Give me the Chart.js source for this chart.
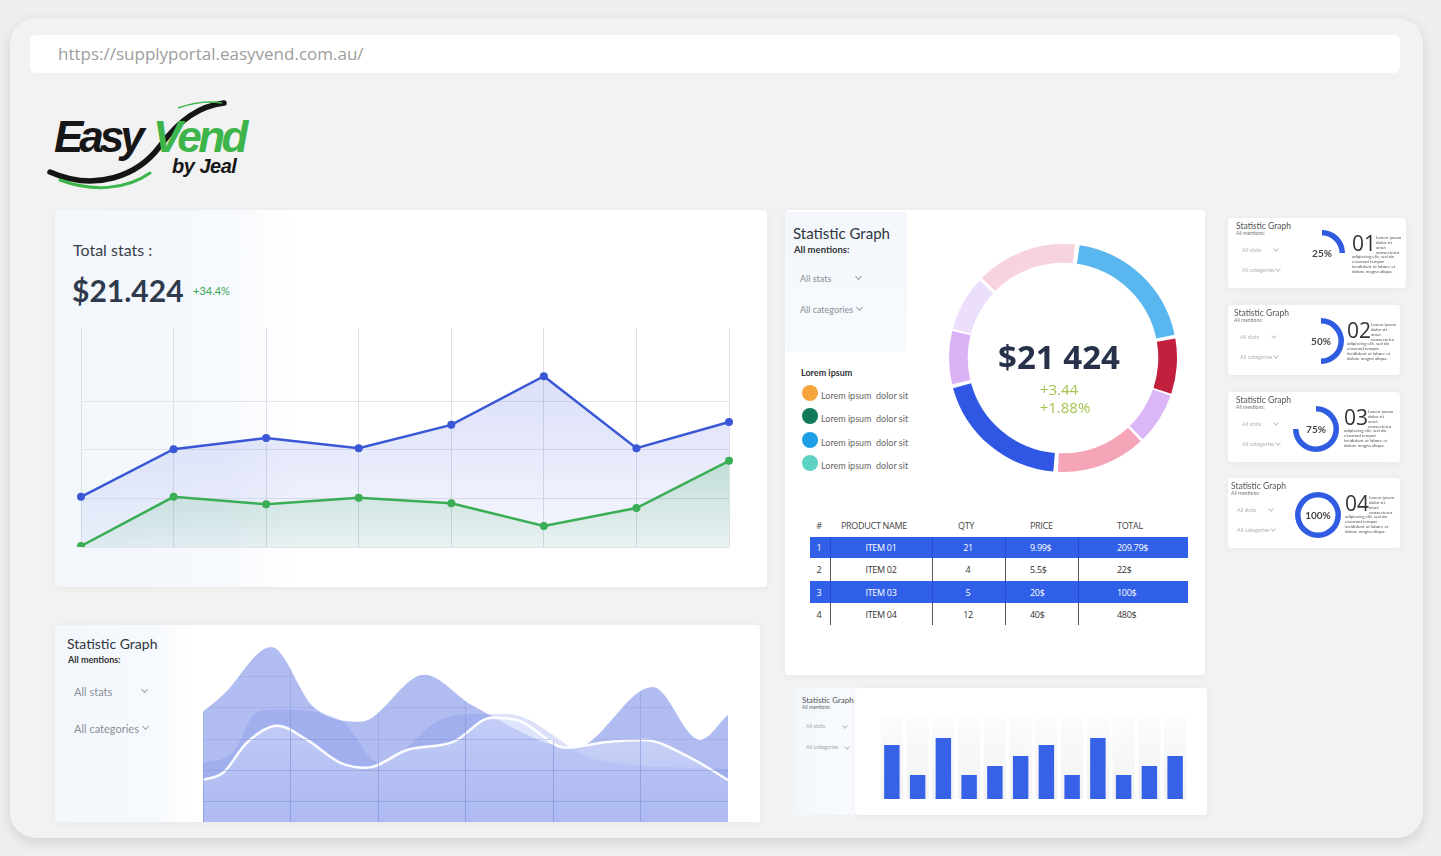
<!DOCTYPE html>
<html><head><meta charset="utf-8">
<script src="https://cdn.jsdelivr.net/npm/chart.js@4.4.1/dist/chart.umd.min.js"></script>
<style>
html,body{margin:0;padding:0;}
body{width:1441px;height:856px;overflow:hidden;background:#eef0f0;font-family:Lato,'Open Sans',sans-serif;position:relative;}
.t{position:absolute;white-space:nowrap;line-height:1;}
.card{position:absolute;background:#fff;border-radius:4px;box-shadow:0 1px 8px rgba(0,0,0,0.05);}
canvas{position:absolute;}
.chev{position:absolute;width:4px;height:4px;border-right:1px solid #9aa0aa;border-bottom:1px solid #9aa0aa;transform:rotate(45deg);}
.tiny{position:absolute;font-size:4.5px;line-height:5px;color:#555;white-space:normal;}
</style></head><body>

<div style="position:absolute;left:10px;top:18px;width:1413px;height:820px;border-radius:26px;background:#f2f2f2;box-shadow:0 4px 14px rgba(0,0,0,0.13);"></div>
<div style="position:absolute;left:30px;top:35px;width:1370px;height:38px;border-radius:6px;background:#fff;"></div>
<div class="t" style="left:58px;top:45px;font-family:'Open Sans';font-size:17px;color:#9d9d9d;">https://supplyportal.easyvend.com.au/</div>

<!-- logo -->
<svg style="position:absolute;left:0;top:0" width="300" height="200">
  <path d="M50,172 C 95,192 138,176 160,146 C 180,119 200,106 224,103" fill="none" stroke="#151515" stroke-width="5.5" stroke-linecap="round"/>
  <path d="M60,180 C 92,192 126,190 150,173" fill="none" stroke="#3db54a" stroke-width="3" stroke-linecap="round"/>
  <path d="M178,108 C 195,102 210,101 222,103" fill="none" stroke="#3db54a" stroke-width="1.5"/>
</svg>
<div class="t" style="left:54px;top:115px;font-family:'Liberation Sans';font-weight:bold;font-style:italic;font-size:44px;letter-spacing:-4px;color:#161616;">Easy</div>
<div class="t" style="left:153px;top:115px;font-family:'Liberation Sans';font-weight:bold;font-style:italic;font-size:44px;letter-spacing:-3.5px;color:#3db54a;">Vend</div>
<div class="t" style="left:172px;top:156px;font-family:'Liberation Sans';font-weight:bold;font-style:italic;font-size:20px;letter-spacing:-0.5px;color:#161616;">by Jeal</div>

<!-- line card -->
<div class="card" style="left:55px;top:210px;width:712px;height:377px;background:linear-gradient(90deg,#f2f7fc 0,#f6f9fd 170px,#fff 240px);"></div>
<div class="t" style="left:73px;top:242px;font-size:16px;color:#3a3f48;">Total stats :</div>
<div class="t" style="left:72px;top:275px;font-size:30px;font-weight:bold;color:#2f3a4d;">$21.424</div>
<div class="t" style="left:193px;top:285px;font-size:11px;color:#3aa856;">+34.4%</div>
<canvas id="lineChart" width="660" height="231" style="left:75px;top:322px;"></canvas>

<!-- area card -->
<div class="card" style="left:55px;top:625px;width:705px;height:197px;overflow:hidden;border-radius:4px 4px 0 0;background:linear-gradient(90deg,#f3f7fc 0,#f6f9fd 100px,#fff 135px);">
  <canvas id="areaChart" width="525" height="188" style="left:148px;top:20px;"></canvas>
</div>
<div class="t" style="left:67px;top:637px;font-size:14px;color:#2f3540;">Statistic Graph</div>
<div class="t" style="left:68px;top:655px;font-size:9px;font-weight:bold;color:#333;">All mentions:</div>
<div class="t" style="left:74px;top:686px;font-size:11px;color:#8a8f99;">All stats</div>
<div class="chev" style="left:142px;top:687px;"></div>
<div class="t" style="left:74px;top:723px;font-size:11px;color:#8a8f99;">All categories</div>
<div class="chev" style="left:143px;top:724px;"></div>

<!-- donut card -->
<div class="card" style="left:785px;top:210px;width:420px;height:465px;"></div>
<div style="position:absolute;left:785px;top:212px;width:122px;height:140px;background:linear-gradient(180deg,#f3f7fc,#f7fafd);border-radius:4px;"></div>
<div class="t" style="left:793px;top:226px;font-size:15px;color:#2f3540;">Statistic Graph</div>
<div class="t" style="left:794px;top:245px;font-size:9.5px;font-weight:bold;color:#333;">All mentions:</div>
<div class="t" style="left:800px;top:274px;font-size:9px;color:#8a8f99;">All stats</div>
<div class="chev" style="left:856px;top:274px;"></div>
<div class="t" style="left:800px;top:305px;font-size:9px;color:#8a8f99;">All categories</div>
<div class="chev" style="left:857px;top:305px;"></div>
<div class="t" style="left:801px;top:368px;font-size:9px;font-weight:bold;color:#333;">Lorem ipsum</div>
<div id="legend"></div>
<canvas id="donutChart" width="228" height="228" style="left:949px;top:244px;"></canvas>
<div class="t" style="left:959px;top:340px;width:200px;text-align:center;font-family:'Open Sans';font-weight:bold;font-size:33px;color:#27324a;">$21 424</div>
<div class="t" style="left:1009px;top:382px;width:100px;text-align:center;font-family:'Open Sans';font-size:15px;color:#a3c44e;">+3.44</div>
<div class="t" style="left:1015px;top:400px;width:100px;text-align:center;font-family:'Open Sans';font-size:15px;color:#a3c44e;">+1.88%</div>
<div id="table"></div>

<!-- bar card -->
<div style="position:absolute;left:793px;top:688px;width:62px;height:127px;background:linear-gradient(90deg,#f3f7fc,#f8fafd);"></div>
<div class="card" style="left:855px;top:688px;width:352px;height:127px;"></div>
<div class="t" style="left:802px;top:696px;font-size:8px;color:#555;">Statistic Graph</div>
<div class="t" style="left:802px;top:705px;font-size:5px;color:#666;">All mentions:</div>
<div class="t" style="left:806px;top:724px;font-size:5.5px;color:#aaa;">All stats</div>
<div class="chev" style="left:843px;top:724px;width:3px;height:3px;border-color:#bbb;"></div>
<div class="t" style="left:806px;top:745px;font-size:5.5px;color:#aaa;">All categories</div>
<div class="chev" style="left:845px;top:745px;width:3px;height:3px;border-color:#bbb;"></div>
<canvas id="barChart" width="309" height="81" style="left:879px;top:718px;"></canvas>

<div id="rings"></div>

<script>
Chart.defaults.animation = false;
Chart.defaults.font.family = 'Lato';

// ---- data ----
const periods = ['1','2','3','4','5','6','7','8'];
const blueSeries = [10.3, 20.1, 22.4, 20.3, 25.1, 35.1, 20.3, 25.7];
const greenSeries = [0.2, 10.3, 8.8, 10.1, 9.0, 4.3, 8.0, 17.7];

const donutValues = [72, 29, 27, 47, 72, 28, 29, 53];

const barLabels = ['1','2','3','4','5','6','7','8','9','10','11','12'];
const barValues = [54, 24, 61, 24, 33, 43, 54, 24, 61, 24, 33, 43];
const barTrack = [81, 81, 81, 81, 81, 81, 81, 81, 81, 81, 81, 81];

const areaBack = [{x:0,y:3.87},{x:0.23,y:4.41},{x:0.78,y:5.94},{x:1.26,y:4.03},{x:1.8,y:3.55},{x:2.53,y:5.05},{x:3.09,y:4.05},{x:4.25,y:2.72},{x:5.14,y:4.66},{x:5.68,y:2.97},{x:6,y:3.77}];
const areaMiddle = [{x:0,y:2.24},{x:0.34,y:2.56},{x:0.62,y:3.87},{x:0.88,y:3.93},{x:1.57,y:3.61},{x:2.02,y:2.24},{x:2.71,y:3.61},{x:3.1,y:3.8},{x:3.48,y:3.8},{x:4.51,y:2.33},{x:6,y:2.04}];
const areaFront = [{x:0,y:1.69},{x:0.23,y:1.92},{x:0.5,y:2.88},{x:0.85,y:3.42},{x:1.19,y:2.97},{x:1.57,y:2.24},{x:1.87,y:2.08},{x:2.33,y:2.65},{x:2.86,y:2.91},{x:3.3,y:3.68},{x:3.6,y:3.6},{x:4.15,y:2.72},{x:4.6,y:2.9},{x:5.04,y:2.97},{x:5.55,y:2.43},{x:6,y:1.69}];

const progressValues = [25, 50, 75, 100];
const progressNumbers = ['01','02','03','04'];

const legendLabels = ['Lorem ipsum  dolor sit','Lorem ipsum  dolor sit','Lorem ipsum  dolor sit','Lorem ipsum  dolor sit'];
const tableHeader = ['#','PRODUCT NAME','QTY','PRICE','TOTAL'];
const tableRows = [
  ['1','ITEM 01','21','9.99$','209.79$'],
  ['2','ITEM 02','4','5.5$','22$'],
  ['3','ITEM 03','5','20$','100$'],
  ['4','ITEM 04','12','40$','480$']
];

// ---- styles ----
const donutColors = ['#5ab6ef','#c21f3f','#dcb7f7','#f5a5b7','#2f57e3','#dcb2f6','#ecdffb','#f6d3de'];
const legendColors = ['#f6a43c','#137a5c','#1e9fe3','#5fd3c3'];
const fitX = s=>{s.height=0;};
const fitY = s=>{s.width=0;};

function vGrad(chart, stops){
  const a = chart.chartArea; if(!a) return null;
  const g = chart.ctx.createLinearGradient(0,a.top,0,a.bottom);
  stops.forEach(s=>g.addColorStop(s[0],s[1]));
  return g;
}

// ---- line chart ----
new Chart(document.getElementById('lineChart'), {
  type:'line',
  data:{labels:periods, datasets:[
    {data:greenSeries, borderColor:'#3bae55', borderWidth:2.5, pointRadius:4, pointBackgroundColor:'#3bae55', pointBorderWidth:0, tension:0, fill:'origin',
     backgroundColor:c=>vGrad(c.chart,[[0,'rgba(50,170,80,0.5)'],[0.6,'rgba(50,170,80,0.22)'],[1,'rgba(50,170,80,0.06)']])},
    {data:blueSeries, borderColor:'#3a58d6', borderWidth:2.5, pointRadius:4, pointBackgroundColor:'#3a58d6', pointBorderWidth:0, tension:0, fill:'origin',
     backgroundColor:c=>vGrad(c.chart,[[0,'rgba(90,110,225,0.26)'],[1,'rgba(90,110,225,0.06)']])}
  ]},
  options:{responsive:false, layout:{padding:6}, plugins:{legend:{display:false},tooltip:{enabled:false}},
    scales:{
      x:{afterFit:fitX, ticks:{display:false}, border:{display:false}, grid:{drawTicks:false, color:'#dcdfe5'}},
      y:{afterFit:fitY, min:0, max:45, ticks:{display:false, stepSize:10}, border:{display:false},
         grid:{drawTicks:false, color:c=>(c.tick && c.tick.value>=40)?'rgba(0,0,0,0)':'#e2e4e9'}}
    }}
});

// ---- donut ----
new Chart(document.getElementById('donutChart'), {
  type:'doughnut',
  data:{labels:donutValues.map((v,i)=>'S'+(i+1)), datasets:[{data:donutValues, backgroundColor:donutColors, borderWidth:0, spacing:8}]},
  options:{responsive:false, rotation:7, cutout:'83%', plugins:{legend:{display:false},tooltip:{enabled:false}}}
});

// ---- bar chart ----
new Chart(document.getElementById('barChart'), {
  type:'bar',
  data:{labels:barLabels, datasets:[
    {data:barValues, backgroundColor:'#3762e8', barPercentage:0.6, categoryPercentage:1, grouped:false},
    {data:barTrack, backgroundColor:c=>vGrad(c.chart,[[0,'rgba(242,243,246,0.3)'],[1,'#f1f2f5']]), barPercentage:0.86, categoryPercentage:1, grouped:false}
  ]},
  options:{responsive:false, plugins:{legend:{display:false},tooltip:{enabled:false}},
    scales:{x:{display:false}, y:{display:false, min:0, max:81}}}
});

// ---- area chart ----
const atopGrid = {id:'atopGrid',
  afterDatasetsDraw(chart){ chart.ctx.globalCompositeOperation='source-atop'; },
  afterDraw(chart){ chart.ctx.globalCompositeOperation='source-over'; }};
new Chart(document.getElementById('areaChart'), {
  type:'line',
  data:{datasets:[
    {data:areaFront, borderColor:'rgba(255,255,255,0.95)', borderWidth:2.5, pointRadius:0, cubicInterpolationMode:'monotone', fill:'origin',
     backgroundColor:c=>vGrad(c.chart,[[0.25,'rgba(232,238,255,0.6)'],[0.7,'rgba(215,224,252,0.35)'],[1,'rgba(200,210,250,0.3)']])},
    {data:areaMiddle, borderWidth:0, pointRadius:0, cubicInterpolationMode:'monotone', fill:'origin', backgroundColor:'rgba(110,130,228,0.24)'},
    {data:areaBack, borderWidth:0, pointRadius:0, cubicInterpolationMode:'monotone', fill:'origin', backgroundColor:'rgba(125,145,232,0.6)'}
  ]},
  options:{responsive:false, plugins:{legend:{display:false},tooltip:{enabled:false}},
    scales:{
      x:{type:'linear', min:0, max:6, afterFit:fitX, ticks:{display:false, stepSize:1}, border:{display:false}, grid:{z:1, drawTicks:false, color:'rgba(60,80,185,0.4)'}},
      y:{type:'linear', min:0, max:6, afterFit:fitY, ticks:{display:false, stepSize:1}, border:{display:false}, grid:{z:1, drawTicks:false, color:'rgba(60,80,185,0.3)'}}
    }},
  plugins:[atopGrid]
});

// ---- legend ----
(function(){
  const host = document.getElementById('legend');
  const ys = [393, 416, 440, 463];
  legendLabels.forEach((lab,i)=>{
    const d = document.createElement('div');
    d.style.cssText = `position:absolute;left:802px;top:${ys[i]-8}px;width:16px;height:16px;border-radius:50%;background:${legendColors[i]};`;
    host.appendChild(d);
    const t = document.createElement('div');
    t.className='t'; t.textContent = lab;
    t.style.cssText += `left:821px;top:${ys[i]-2}px;font-size:9px;color:#666;white-space:pre;`;
    host.appendChild(t);
  });
})();

// ---- table ----
(function(){
  const host = document.getElementById('table');
  const colL = [810, 830, 932, 1005, 1078];
  const txtX = [[819,'c'],[881,'c'],[968,'c'],[1030,'l'],[1117,'l']];
  const hdrX = [[819,'c'],[841,'l'],[966,'c'],[1030,'l'],[1117,'l']];
  function txt(s,x,al,y,col,size){
    const t=document.createElement('div'); t.className='t'; t.textContent=s;
    if(al==='c'){ t.style.left=(x-40)+'px'; t.style.width='80px'; t.style.textAlign='center'; } else t.style.left=x+'px';
    t.style.top=(y-size/2)+'px'; t.style.fontSize=size+'px'; t.style.color=col; t.style.fontFamily="'Open Sans'";
    t.style.letterSpacing='-0.3px';
    host.appendChild(t);
  }
  tableHeader.forEach((h,i)=>txt(h,hdrX[i][0],hdrX[i][1],525,'#444',9));
  const rowTop = [537, 558, 581, 603];
  const rowH = [21, 23, 22, 22];
  tableRows.forEach((r,ri)=>{
    const blue = ri%2===0;
    if(blue){
      const b=document.createElement('div');
      b.style.cssText=`position:absolute;left:810px;top:${rowTop[ri]}px;width:378px;height:${rowH[ri]}px;background:#3160e8;`;
      host.appendChild(b);
    }
    for(let c=1;c<5;c++){
      const l=document.createElement('div');
      l.style.cssText=`position:absolute;left:${colL[c]}px;top:${rowTop[ri]}px;width:1px;height:${rowH[ri]}px;background:${blue?'rgba(20,40,140,0.35)':'#555'};`;
      host.appendChild(l);
    }
    r.forEach((s,ci)=>txt(s,txtX[ci][0],txtX[ci][1],rowTop[ri]+rowH[ri]/2,blue?'#fff':'#333',9));
  });
})();

// ---- progress cards ----
(function(){
  const host = document.getElementById('rings');
  const cardTop = [218, 305, 392, 478];
  const ringC = [[1322,253],[1321,341],[1316,429],[1318,515]];
  const numX = [1352, 1347, 1344, 1345];
  const labX = [1236, 1234, 1236, 1231];
  const lorem1 = 'Lorem ipsum dolor sit amet consectetur';
  const lorem2 = 'adipiscing elit, sed do eiusmod tempor incididunt ut labore et dolore magna aliqua.';
  progressValues.forEach((p,i)=>{
    const T = cardTop[i];
    const card=document.createElement('div'); card.className='card';
    card.style.cssText+=`left:1228px;top:${T}px;width:${i===0?178:172}px;height:70px;`;
    host.appendChild(card);
    const add=(html,css)=>{const d=document.createElement('div'); d.className='t'; d.textContent=html; d.style.cssText+=css; host.appendChild(d); return d;};
    add('Statistic Graph',`left:${labX[i]}px;top:${T+4}px;font-size:8.5px;color:#555;`);
    add('All mentions:',`left:${labX[i]}px;top:${T+13}px;font-size:5px;color:#777;`);
    add('All stats',`left:${labX[i]+6}px;top:${T+30}px;font-size:5.5px;color:#b0b4bb;`);
    add('All categories',`left:${labX[i]+6}px;top:${T+50}px;font-size:5.5px;color:#b0b4bb;`);
    const ch1=document.createElement('div'); ch1.className='chev'; ch1.style.cssText+=`left:${labX[i]+38}px;top:${T+29}px;width:3px;height:3px;border-color:#c0c4ca;`; host.appendChild(ch1);
    const ch2=document.createElement('div'); ch2.className='chev'; ch2.style.cssText+=`left:${labX[i]+40}px;top:${T+49}px;width:3px;height:3px;border-color:#c0c4ca;`; host.appendChild(ch2);
    const cv=document.createElement('canvas'); cv.width=46; cv.height=46;
    cv.style.left=(ringC[i][0]-23)+'px'; cv.style.top=(ringC[i][1]-23)+'px';
    host.appendChild(cv);
    new Chart(cv,{type:'doughnut', data:{labels:['done','rest'], datasets:[{data:[p,100-p], backgroundColor:['#2f5ce0','rgba(0,0,0,0)'], borderWidth:0}]},
      options:{responsive:false, cutout:'76%', plugins:{legend:{display:false},tooltip:{enabled:false}}}});
    add(p+'%',`left:${ringC[i][0]-20}px;width:40px;text-align:center;top:${ringC[i][1]-5}px;font-size:10px;font-weight:bold;color:#444;`);
    add(progressNumbers[i],`left:${numX[i]}px;top:${T+15}px;font-size:21px;color:#333;font-family:'Open Sans';`);
    const a=document.createElement('div'); a.className='tiny'; a.textContent=lorem1;
    a.style.cssText+=`left:${numX[i]+24}px;top:${T+17}px;width:26px;`; host.appendChild(a);
    const b=document.createElement('div'); b.className='tiny'; b.textContent=lorem2;
    b.style.cssText+=`left:${numX[i]}px;top:${T+36}px;width:48px;`; host.appendChild(b);
  });
})();
</script>
</body></html>
